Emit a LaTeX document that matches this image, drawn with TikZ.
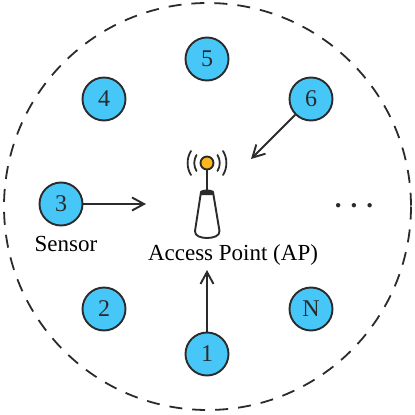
\documentclass[tikz,border=0pt]{standalone}
\usepackage{fontspec}
\setmainfont{Liberation Serif}
\usetikzlibrary{arrows.meta}
\definecolor{nodeblue}{HTML}{47C7F8}
\definecolor{inkc}{HTML}{2B2B2B}
\definecolor{apgold}{HTML}{FDB71C}
\tikzset{
  sensor/.style={circle,draw=inkc,line width=1.9pt,fill=nodeblue,minimum size=43pt,inner sep=0pt,text=inkc,font=\fontsize{24}{26}\selectfont},
  link/.style={draw=inkc,line width=1.9pt,-{Straight Barb[length=12pt,width=13pt,line width=1.9pt]}},
  lab/.style={inner sep=0pt,text=black,font=\fontsize{23}{25}\selectfont,anchor=base},
  wave/.style={draw=inkc,line width=1.8pt,line cap=round}
}
\begin{document}
\begin{tikzpicture}[x=1pt,y=-1pt]
\useasboundingbox (0,0) rectangle (415,415);
\draw[inkc,line width=1.8pt,dash pattern=on 13pt off 10pt] (207.5,206.5) circle[radius=203.5];
\node[sensor] (n5) at (207,59) {5};
\node[sensor] (n4) at (104,99) {4};
\node[sensor] (n6) at (311,99) {6};
\node[sensor] (n3) at (61,204) {3};
\node[sensor] (n2) at (104,309) {2};
\node[sensor] (nN) at (311,309) {N};
\node[sensor] (n1) at (207,354) {1};
\coordinate (t1) at (207,270);
\coordinate (t3) at (146,204);
\coordinate (t6) at (251,159);
\draw[link] (n1) -- (t1);
\draw[link] (n3) -- (t3);
\draw[link] (n6) -- (t6);
% access point
\draw[inkc,line width=1.9pt] (207,163) -- (207,191);
\draw[inkc,line width=1.9pt,line join=round,fill=white] (201,192) -- (213,192) -- (219.5,231) .. controls (220,236) and (213,238) .. (207,238) .. controls (201,238) and (194.5,236) .. (195,231) -- cycle;
\fill[inkc] (200,195) -- (200.5,191) .. controls (203,189) and (211,189) .. (213.5,191) -- (214,195) -- cycle;
\node[circle,draw=inkc,line width=1.9pt,fill=apgold,minimum size=13pt,inner sep=0pt] (led) at (207,163) {};
\draw[wave] (196.5,155) .. controls (193.5,160) and (193.5,166) .. (196.5,171);
\draw[wave] (217.5,155) .. controls (220.5,160) and (220.5,166) .. (217.5,171);
\draw[wave] (191,151) .. controls (186.5,158) and (186.5,168) .. (191,175);
\draw[wave] (223,151) .. controls (227.5,158) and (227.5,168) .. (223,175);
\node[lab] (ap) at (233,260) {Access Point (AP)};
\node[lab] (sn) at (66,251) {Sensor};
\node[inner sep=0pt,text=inkc,font=\fontsize{27}{29}\bfseries] (dots) at (354,206) {. . .};
\end{tikzpicture}
\end{document}
